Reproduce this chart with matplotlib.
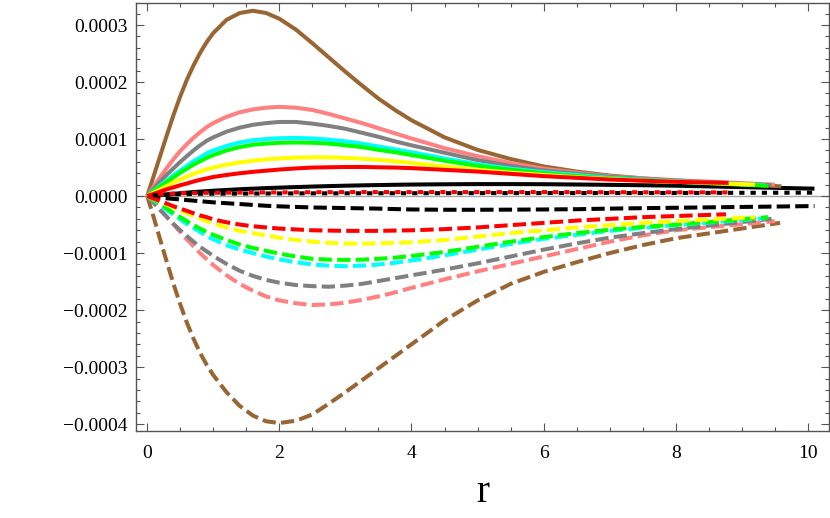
import numpy as np
import matplotlib
matplotlib.use("Agg")
import matplotlib.pyplot as plt
from matplotlib.ticker import MultipleLocator, FuncFormatter

# shared r grid (the last point of every curve is its own end radius, see ends)
R = [0, 0.1, 0.2, 0.3, 0.4, 0.5, 0.6, 0.7, 0.8, 0.9, 1.0, 1.2, 1.4, 1.6, 1.8, 2.0,
     2.25, 2.5, 2.75, 3.0, 3.25, 3.5, 3.75, 4.0, 4.5, 5.0, 5.5, 6.0, 6.5, 7.0, 7.5, 8.0]

# values in units of 1e-4
#   solid curves
brownSolid = [0, 0.36, 0.72, 1.08, 1.43, 1.75, 2.04, 2.29, 2.51, 2.70, 2.86, 3.09, 3.21, 3.25, 3.21, 3.11,
              2.92, 2.68, 2.43, 2.18, 1.94, 1.71, 1.51, 1.33, 1.03, 0.81, 0.65, 0.52, 0.43, 0.36, 0.31, 0.27]
pinkSolid = [0, 0.17, 0.34, 0.5, 0.65, 0.79, 0.91, 1.02, 1.12, 1.21, 1.28, 1.39, 1.47, 1.52, 1.55, 1.565,
             1.55, 1.51, 1.44, 1.36, 1.28, 1.19, 1.1, 1.01, 0.84, 0.7, 0.58, 0.48, 0.41, 0.35, 0.31, 0.28]
graySolid = [0, 0.13, 0.26, 0.38, 0.49, 0.6, 0.7, 0.8, 0.89, 0.97, 1.03, 1.13, 1.2, 1.25, 1.28, 1.3,
             1.3, 1.27, 1.23, 1.18, 1.11, 1.04, 0.96, 0.89, 0.76, 0.63, 0.53, 0.45, 0.39, 0.34, 0.3, 0.27]
cyanSolid = [0, 0.1, 0.19, 0.28, 0.37, 0.45, 0.53, 0.61, 0.68, 0.75, 0.8, 0.88, 0.94, 0.98, 1.0, 1.015,
             1.02, 1.01, 0.99, 0.96, 0.92, 0.87, 0.82, 0.77, 0.66, 0.56, 0.48, 0.42, 0.37, 0.32, 0.29, 0.26]
greenSolid = [0, 0.09, 0.17, 0.25, 0.33, 0.41, 0.48, 0.55, 0.61, 0.67, 0.72, 0.8, 0.86, 0.9, 0.92, 0.935,
              0.94, 0.935, 0.92, 0.89, 0.86, 0.81, 0.77, 0.72, 0.62, 0.53, 0.46, 0.4, 0.35, 0.31, 0.28, 0.25]
yellowSolid = [0, 0.06, 0.12, 0.18, 0.24, 0.29, 0.34, 0.39, 0.43, 0.47, 0.5, 0.55, 0.59, 0.62, 0.645, 0.66,
               0.675, 0.68, 0.68, 0.67, 0.655, 0.635, 0.61, 0.58, 0.52, 0.46, 0.41, 0.37, 0.33, 0.3, 0.27, 0.25]
redSolid = [0, 0.04, 0.08, 0.12, 0.155, 0.19, 0.22, 0.255, 0.285, 0.31, 0.335, 0.37, 0.4, 0.425, 0.445, 0.465,
            0.485, 0.5, 0.505, 0.51, 0.51, 0.505, 0.5, 0.49, 0.46, 0.43, 0.39, 0.35, 0.32, 0.29, 0.27, 0.25]
blackSolid = [0, 0.01, 0.02, 0.03, 0.04, 0.05, 0.06, 0.07, 0.078, 0.086, 0.094, 0.107, 0.12, 0.13, 0.14, 0.148,
              0.158, 0.167, 0.175, 0.182, 0.188, 0.193, 0.198, 0.202, 0.207, 0.21, 0.21, 0.208, 0.203, 0.197, 0.19, 0.182]

#   dashed curves
brownDashed = [0, -0.38, -0.78, -1.17, -1.55, -1.9, -2.22, -2.5, -2.75, -2.96, -3.14, -3.44, -3.68, -3.85, -3.95, -3.98,
               -3.94, -3.83, -3.64, -3.44, -3.23, -3.02, -2.81, -2.6, -2.18, -1.83, -1.54, -1.33, -1.16, -1.0, -0.86, -0.74]
pinkDashed = [0, -0.12, -0.24, -0.37, -0.5, -0.63, -0.76, -0.88, -1.0, -1.11, -1.21, -1.39, -1.54, -1.66, -1.76, -1.83,
              -1.88, -1.91, -1.9, -1.87, -1.82, -1.76, -1.69, -1.61, -1.46, -1.32, -1.19, -1.06, -0.93, -0.8, -0.69, -0.6]
grayDashed = [0, -0.12, -0.25, -0.37, -0.49, -0.6, -0.7, -0.8, -0.89, -0.97, -1.05, -1.19, -1.31, -1.4, -1.47, -1.52,
              -1.56, -1.58, -1.59, -1.57, -1.54, -1.49, -1.44, -1.39, -1.29, -1.18, -1.06, -0.94, -0.83, -0.73, -0.65, -0.58]
cyanDashed = [0, -0.08, -0.16, -0.25, -0.33, -0.41, -0.49, -0.56, -0.63, -0.7, -0.76, -0.86, -0.94, -1.0, -1.06, -1.11,
              -1.16, -1.2, -1.22, -1.23, -1.22, -1.2, -1.17, -1.13, -1.04, -0.94, -0.84, -0.75, -0.68, -0.61, -0.56, -0.51]
greenDashed = [0, -0.07, -0.14, -0.22, -0.3, -0.37, -0.44, -0.51, -0.57, -0.63, -0.68, -0.77, -0.85, -0.91, -0.96, -1.01,
               -1.06, -1.1, -1.115, -1.12, -1.115, -1.1, -1.08, -1.05, -0.98, -0.89, -0.8, -0.72, -0.65, -0.59, -0.54, -0.5]
yellowDashed = [0, -0.05, -0.1, -0.15, -0.2, -0.25, -0.3, -0.35, -0.39, -0.44, -0.48, -0.55, -0.61, -0.65, -0.69, -0.73,
                -0.77, -0.8, -0.82, -0.83, -0.835, -0.83, -0.82, -0.81, -0.77, -0.71, -0.65, -0.6, -0.55, -0.51, -0.47, -0.44]
redDashed = [0, -0.045, -0.09, -0.135, -0.18, -0.22, -0.26, -0.3, -0.34, -0.37, -0.41, -0.46, -0.5, -0.53, -0.55, -0.57,
             -0.585, -0.6, -0.605, -0.61, -0.61, -0.61, -0.605, -0.6, -0.58, -0.55, -0.51, -0.47, -0.43, -0.4, -0.37, -0.35]
blackDashed = [0, -0.015, -0.03, -0.04, -0.05, -0.06, -0.07, -0.08, -0.09, -0.1, -0.11, -0.125, -0.14, -0.155, -0.17, -0.18,
               -0.19, -0.2, -0.205, -0.21, -0.215, -0.22, -0.228, -0.235, -0.24, -0.24, -0.238, -0.235, -0.23, -0.22, -0.212, -0.205]

#   dotted curves
redDotted = [0, 0.015, 0.03, 0.04, 0.045, 0.05, 0.052, 0.054, 0.055, 0.057, 0.058, 0.06, 0.061, 0.062, 0.064, 0.065,
             0.066, 0.068, 0.069, 0.07, 0.07, 0.07, 0.07, 0.07, 0.07, 0.07, 0.07, 0.07, 0.069, 0.068, 0.067, 0.066]
blackDotted = [0, 0.01, 0.02, 0.025, 0.03, 0.033, 0.035, 0.037, 0.04, 0.041, 0.042, 0.043, 0.044, 0.045, 0.046, 0.047,
               0.047, 0.048, 0.048, 0.049, 0.049, 0.05, 0.05, 0.05, 0.051, 0.052, 0.052, 0.053, 0.053, 0.054, 0.054, 0.055]

# (end radius, end value) of every curve
ends = {
    "brownSolid": (9.6, 0.17), "pinkSolid": (9.5, 0.2), "graySolid": (9.45, 0.19),
    "cyanSolid": (9.35, 0.19), "greenSolid": (9.4, 0.18), "yellowSolid": (9.2, 0.2),
    "redSolid": (8.8, 0.23), "blackSolid": (10.1, 0.13),
    "brownDashed": (9.58, -0.47), "pinkDashed": (9.5, -0.44), "grayDashed": (9.45, -0.40),
    "cyanDashed": (9.35, -0.39), "greenDashed": (9.4, -0.37), "yellowDashed": (9.2, -0.37),
    "redDashed": (8.76, -0.32), "blackDashed": (10.1, -0.175),
    "redDotted": (8.8, 0.065), "blackDotted": (10.1, 0.06),
}

BROWN = "#996633"
PINK = "#ff8080"
GRAY = "#808080"
CYAN = "#00ffff"
GREEN = "#00ff00"
YELLOW = "#ffff00"
RED = "#ff0000"
BLACK = "#000000"

solids = [("blackSolid", blackSolid, BLACK), ("brownSolid", brownSolid, BROWN),
          ("pinkSolid", pinkSolid, PINK), ("graySolid", graySolid, GRAY),
          ("cyanSolid", cyanSolid, CYAN), ("greenSolid", greenSolid, GREEN),
          ("yellowSolid", yellowSolid, YELLOW), ("redSolid", redSolid, RED)]
dasheds = [("blackDashed", blackDashed, BLACK), ("brownDashed", brownDashed, BROWN),
           ("pinkDashed", pinkDashed, PINK), ("grayDashed", grayDashed, GRAY),
           ("cyanDashed", cyanDashed, CYAN), ("greenDashed", greenDashed, GREEN),
           ("yellowDashed", yellowDashed, YELLOW), ("redDashed", redDashed, RED)]

plt.rcParams['font.family'] = ['Liberation Serif', 'DejaVu Serif']

fig = plt.figure(figsize=(8.3, 5.18), dpi=100)
ax = fig.add_axes([136 / 830, 1 - 431 / 518, (829 - 136) / 830, (431 - 3) / 518])

LW = 2.9


def curve(name, vals):
    assert len(vals) == len(R), name
    rEnd, vEnd = ends[name]
    r = np.array(R + [rEnd])
    v = np.array(vals + [vEnd]) * 1e-4
    return r, v


ax.axhline(0, color="#a6a6a6", lw=1.0, zorder=1)

for name, vals, col in solids:
    r, v = curve(name, vals)
    ax.plot(r, v, color=col, lw=LW, solid_capstyle="butt", solid_joinstyle="round", zorder=3)

for name, vals, col in dasheds:
    r, v = curve(name, vals)
    ax.plot(r, v, color=col, lw=LW, dashes=(3.3, 1.3), dash_capstyle="butt", zorder=4)

r, v = curve("blackDotted", blackDotted)
ax.plot(r, v, color=BLACK, lw=LW, linestyle=(1.4, (1.3, 1.5)), dash_capstyle="butt", zorder=5)
r, v = curve("redDotted", redDotted)
ax.plot(r, v, color=RED, lw=LW, linestyle=(0, (1.3, 1.5)), dash_capstyle="butt", zorder=6)

ax.set_xlim(-0.17, 10.32)
ax.set_ylim(-0.000412, 0.0003386)

ax.xaxis.set_major_locator(MultipleLocator(2))
ax.xaxis.set_minor_locator(MultipleLocator(0.5))
ax.yaxis.set_major_locator(MultipleLocator(0.0001))
ax.yaxis.set_minor_locator(MultipleLocator(0.00002))
ax.xaxis.set_major_formatter(FuncFormatter(lambda x, p: f"{x:.0f}"))
ax.yaxis.set_major_formatter(FuncFormatter(
    lambda y, p: ("\u2212" if y < -1e-12 else "") + f"{abs(y):.4f}"))

frameCol = "#555555"
for s in ax.spines.values():
    s.set_color(frameCol)
    s.set_linewidth(1.0)
ax.tick_params(which="both", direction="in", top=True, right=True, color=frameCol, width=0.8)
ax.tick_params(which="major", length=6)
ax.tick_params(which="minor", length=3.2)
ax.tick_params(axis="y", labelsize=14, pad=6)
ax.tick_params(axis="x", labelsize=14, pad=10)

ax.set_xlabel("r", fontsize=28, labelpad=9)

fig.savefig("out.png", dpi=100)
